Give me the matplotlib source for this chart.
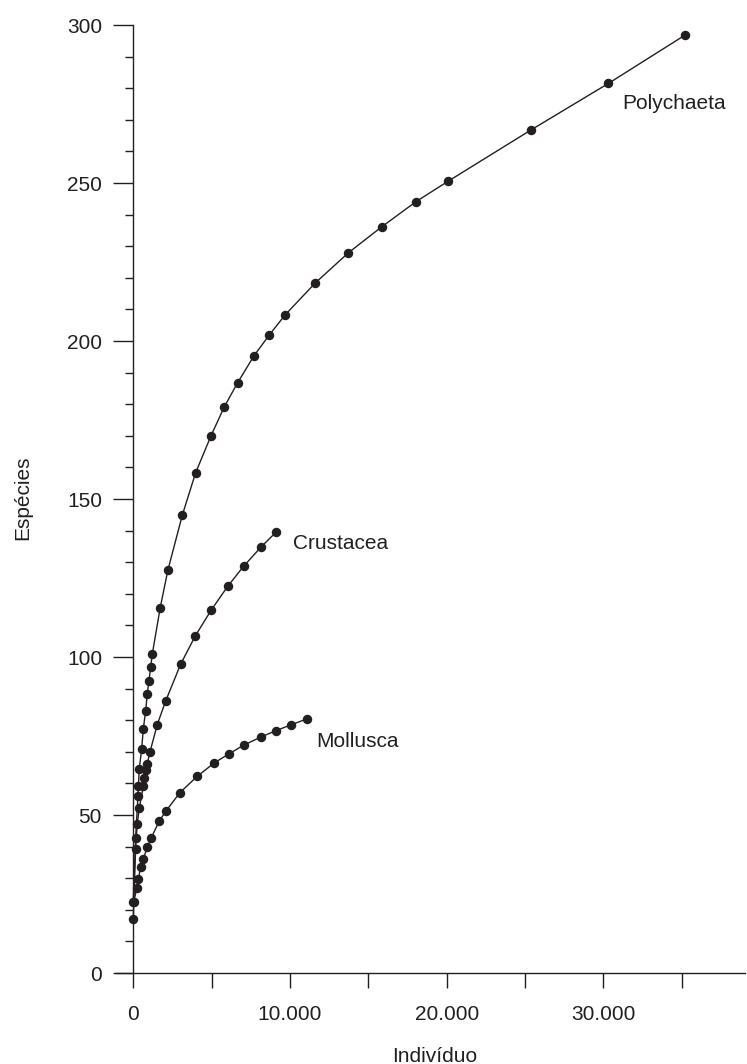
import matplotlib
matplotlib.use("Agg")
import matplotlib.pyplot as plt
from matplotlib.ticker import MultipleLocator, FuncFormatter

plt.rcParams['font.family'] = ['Liberation Sans', 'DejaVu Sans']

poly_x = [0, 150, 300, 330, 385, 535, 640, 790, 895, 1000, 1110, 1210, 1720, 2210, 3130,
          3980, 4960, 5810, 6660, 7700, 8680, 9680, 11600, 13720, 15870, 18040, 20100,
          25380, 30310, 35200]
poly_y = [22.6, 42.6, 56.0, 59.2, 64.7, 70.8, 77.2, 82.9, 88.3, 92.5, 96.7, 100.8, 115.6,
          127.5, 144.9, 158.3, 170.0, 179.2, 186.8, 195.3, 201.9, 208.2, 218.3, 227.9,
          236.2, 244.1, 250.6, 266.8, 281.5, 296.8]

crus_x = [0, 150, 255, 385, 640, 700, 785, 895, 1065, 1530, 2070, 3020, 3960, 4980, 6060,
          7040, 8130, 9110]
crus_y = [17.0, 39.4, 47.3, 52.1, 59.2, 61.8, 64.1, 66.3, 69.9, 78.6, 86.1, 97.7, 106.7,
          114.9, 122.6, 128.7, 134.7, 139.5]

moll_x = [45, 215, 320, 470, 640, 895, 1150, 1660, 2090, 2980, 4070, 5170, 6090, 7040,
          8150, 9110, 10040, 11070]
moll_y = [22.6, 26.8, 29.7, 33.4, 36.1, 39.8, 42.8, 48.1, 51.3, 57.1, 62.2, 66.5, 69.3,
          72.1, 74.7, 76.7, 78.5, 80.4]

series_names = ["Polychaeta", "Crustacea", "Mollusca"]
label_pos = [(31200, 273.4), (10210, 134.1), (11700, 71.6)]

ink = '#231f20'
FS = 15
fig = plt.figure(figsize=(7.47, 10.64), dpi=100)
ax = fig.add_axes([0.1553, 0.0855, 0.9967 - 0.1553, 0.9765 - 0.0855])

for xs, ys in [(poly_x, poly_y), (crus_x, crus_y), (moll_x, moll_y)]:
    ax.plot(xs, ys, color=ink, lw=1.0, marker='o', ms=5.8, mfc=ink, mec=ink,
            zorder=3, clip_on=False)

for name, (lx, ly) in zip(series_names, label_pos):
    ax.text(lx, ly, name, fontsize=FS, color=ink, va='baseline', ha='left')

ax.set_xlim(-1100, 39000)
ax.set_ylim(0, 300)
for s in ['top', 'right']:
    ax.spines[s].set_visible(False)
for s in ['left', 'bottom']:
    ax.spines[s].set_linewidth(1.0)
    ax.spines[s].set_color(ink)
ax.spines['left'].set_position(('data', 0))

ax.xaxis.set_major_locator(MultipleLocator(5000))
ax.xaxis.set_major_formatter(FuncFormatter(
    lambda v, p: ('0' if v == 0 else f"{int(v):,}".replace(',', '.'))
    if v % 10000 == 0 and 0 <= v <= 30000 else ''))
ax.yaxis.set_major_locator(MultipleLocator(50))
ax.yaxis.set_minor_locator(MultipleLocator(10))

ax.tick_params(axis='x', which='major', direction='out', length=11, width=1.0,
               pad=12, labelsize=FS, colors=ink)
ax.tick_params(axis='y', which='major', direction='out', length=14.5, width=1.0,
               pad=8, labelsize=FS, colors=ink)
ax.tick_params(axis='y', which='minor', direction='out', length=6, width=1.0,
               colors=ink)

fig.text(435 / 747, 1 - 1062 / 1064, 'Indivíduo', fontsize=FS, color=ink,
         ha='center', va='baseline')
fig.text(28 / 747, 1 - 498 / 1064, 'Espécies', fontsize=FS, color=ink,
         ha='center', va='baseline', rotation=90, rotation_mode='anchor')

fig.savefig('out.png', dpi=100)
